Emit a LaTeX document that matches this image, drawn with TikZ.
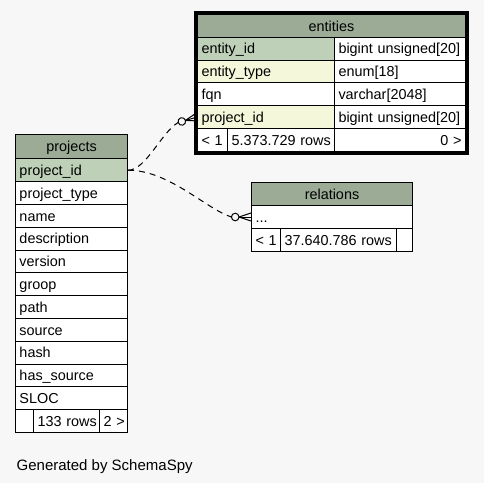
\documentclass[tikz,border=0pt]{standalone}
\usepackage{fontspec}
\setmainfont{Liberation Sans}
\usetikzlibrary{calc}
\definecolor{bg}{HTML}{F7F7F7}
\definecolor{head}{HTML}{9BAB96}
\definecolor{pk}{HTML}{BED1B8}
\definecolor{idx}{HTML}{F4F7DA}
\newcommand\dbcell[8]{%
  \pgfmathsetlengthmacro\dbtw{#4-8}%
  \node[cell, fill=#6, minimum width=#4, minimum height=#5, text width=\dbtw, align=#7] (#1) at (#2,#3) {\mbox{#8}};}
\begin{document}
\begin{tikzpicture}[x=1pt,y=-1pt,
  font=\fontsize{14.4}{17}\selectfont,
  cell/.style={draw=black, line width=1pt, anchor=north west, inner xsep=4pt, inner ysep=0pt,
    text height=10.4pt, text depth=0pt},
  conn/.style={line width=1pt, dash pattern=on 6pt off 5pt},
  crowdot/.pic={
    \draw[line width=1pt] (0,-4) -- (-12,0) -- (0,4);
    \draw[line width=1pt] (-12,0) -- (0,0);
    \draw[line width=1pt, fill=bg] (-15.8,0) circle (3.8);
    \coordinate (-tail) at (-19.6,0);
  }]
\fill[bg] (0,0) rectangle (484,483);
\useasboundingbox (0,0) rectangle (484,483);

% entities
\dbcell{e-t}{197}{14}{268}{22.8}{head}{center}{entities}
\dbcell{e-id-n}{197}{36.8}{137}{22.8}{pk}{left}{entity\_id}
\dbcell{e-id-t}{334}{36.8}{131}{22.8}{white}{left}{bigint unsigned[20]}
\dbcell{e-ty-n}{197}{59.6}{137}{22.8}{idx}{left}{entity\_type}
\dbcell{e-ty-t}{334}{59.6}{131}{22.8}{white}{left}{enum[18]}
\dbcell{e-fq-n}{197}{82.4}{137}{22.8}{white}{left}{fqn}
\dbcell{e-fq-t}{334}{82.4}{131}{22.8}{white}{left}{varchar[2048]}
\dbcell{e-pid-n}{197}{105.2}{137}{22.8}{idx}{left}{project\_id}
\dbcell{e-pid-t}{334}{105.2}{131}{22.8}{white}{left}{bigint unsigned[20]}
\dbcell{e-f1}{197}{128}{30}{22.8}{white}{left}{< 1}
\dbcell{e-f2}{227}{128}{107}{22.8}{white}{left}{5.373.729 rows}
\dbcell{e-f3}{334}{128}{131}{22.8}{white}{right}{0 >}
\draw[line width=2.6pt] ($(e-t.north west)+(-1.6,-1.6)$) rectangle ($(e-f3.south east)+(1.6,1.6)$);

% projects
\dbcell{p-t}{15}{133.5}{112}{24.8}{head}{center}{projects}
\dbcell{p-pid-n}{15}{158.3}{112}{22.8}{pk}{left}{project\_id}
\dbcell{p-r2}{15}{181.1}{112}{22.8}{white}{left}{project\_type}
\dbcell{p-r3}{15}{203.9}{112}{22.8}{white}{left}{name}
\dbcell{p-r4}{15}{226.7}{112}{22.8}{white}{left}{description}
\dbcell{p-r5}{15}{249.5}{112}{22.8}{white}{left}{version}
\dbcell{p-r6}{15}{272.3}{112}{22.8}{white}{left}{groop}
\dbcell{p-r7}{15}{295.1}{112}{22.8}{white}{left}{path}
\dbcell{p-r8}{15}{317.9}{112}{22.8}{white}{left}{source}
\dbcell{p-r9}{15}{340.7}{112}{22.8}{white}{left}{hash}
\dbcell{p-r10}{15}{363.5}{112}{22.8}{white}{left}{has\_source}
\dbcell{p-r11}{15}{386.3}{112}{22.8}{white}{left}{SLOC}
\dbcell{p-f1}{15}{409.1}{18}{22.8}{white}{left}{}
\dbcell{p-f2}{33}{409.1}{66}{22.8}{white}{left}{133 rows}
\dbcell{p-f3}{99}{409.1}{28}{22.8}{white}{right}{2 >}

% relations
\dbcell{r-t}{251}{182}{161}{23}{head}{center}{relations}
\dbcell{r-dots}{251}{205}{161}{23}{white}{left}{...}
\dbcell{r-f1}{251}{228}{29}{23}{white}{left}{< 1}
\dbcell{r-f2}{280}{228}{116}{23}{white}{left}{37.640.786 rows}
\dbcell{r-f3}{396}{228}{16}{23}{white}{left}{}

% connectors
\pic[rotate=16] (cf1) at (e-pid-n.west) {crowdot};
\pic (cf2) at (r-dots.west) {crowdot};
\draw[conn] (p-pid-n.east) .. controls +(18,0) and +(-17,10) .. (cf1-tail);
\draw[conn] (p-pid-n.east) .. controls +(41,0) and +(-26,-8.5) .. (cf2-tail);

\node[anchor=base west, inner sep=0pt, font=\fontsize{15}{18}\selectfont] (gen) at (16.5,470) {Generated by SchemaSpy};
\end{tikzpicture}
\end{document}
